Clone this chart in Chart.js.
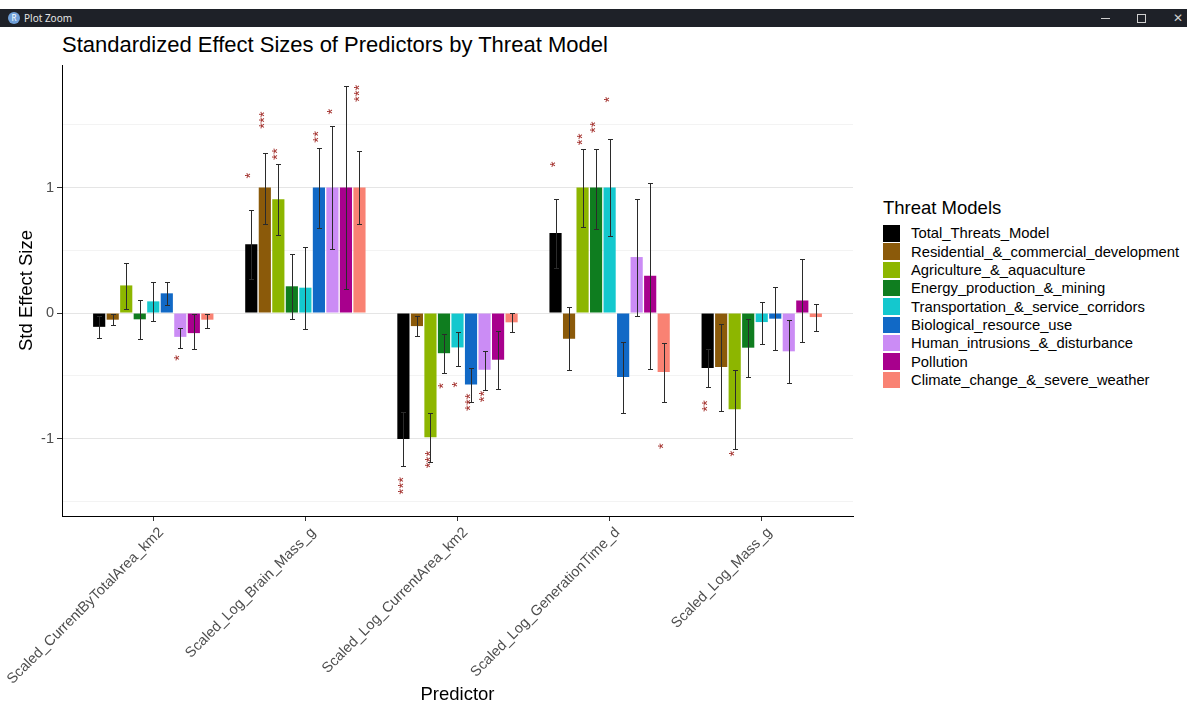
<!DOCTYPE html>
<html>
<head>
<meta charset="utf-8">
<title>Standardized Effect Sizes</title>
<script src="https://cdn.jsdelivr.net/npm/chart.js@4.4.1/dist/chart.umd.min.js"></script>
<style>
	body { margin: 0; background: #fff; font-family: 'Liberation Sans', Arial, sans-serif; }
	#page { position: relative; width: 1187px; height: 707px; overflow: hidden; }
	#chartEffects { position: absolute; left: 0; top: 0; }
	#winbar { position: absolute; left: 0; top: 9px; width: 1187px; height: 18px; background: #1e2128; color: #e4e4e4; font: 10px 'Noto Sans', sans-serif; line-height: 18px; z-index: 2; }
	#winbar .icon { position: absolute; left: 8px; top: 3px; width: 12px; height: 12px; border-radius: 50%; background: #6f9fd8; color: #fff; font-size: 8px; line-height: 12px; text-align: center; }
	#winbar .name { position: absolute; left: 24px; top: 0; }
	#winbar .min { position: absolute; left: 1101px; top: 9px; width: 9px; height: 1px; background: #cfcfcf; }
	#winbar .max { position: absolute; left: 1137px; top: 5px; width: 7px; height: 7px; border: 1px solid #cfcfcf; }
	#winbar .close { position: absolute; left: 1173px; top: 0; font-size: 12px; color: #cfcfcf; }
	#title { position: absolute; left: 62px; top: 32px; font-size: 22px; line-height: 26px; color: #000; white-space: nowrap; }
	#legend { position: absolute; left: 883px; top: 0; }
	#legend .ltitle { position: absolute; left: 0; top: 197px; font-size: 18.5px; line-height: 22px; white-space: nowrap; }
	#legend .row { position: absolute; left: 0; height: 16.5px; display: flex; align-items: center; white-space: nowrap; }
	#legend .key { width: 17px; height: 16.5px; }
	#legend .lbl { margin-left: 11px; font-size: 14.8px; color: #000; }
</style>
</head>
<body>
<div id="page">
	<div id="winbar"><div class="icon">R</div><div class="name">Plot Zoom</div><div class="min"></div><div class="max"></div><div class="close">&#x2715;</div></div>
	<div id="title">Standardized Effect Sizes of Predictors by Threat Model</div>
	<div id="legend"><div class="ltitle">Threat Models</div></div>
	<canvas id="chartEffects" width="1187" height="707"></canvas>
</div>
<script>
'use strict'

const predictors = [
	'Scaled_CurrentByTotalArea_km2',
	'Scaled_Log_Brain_Mass_g',
	'Scaled_Log_CurrentArea_km2',
	'Scaled_Log_GenerationTime_d',
	'Scaled_Log_Mass_g'
];

const threatModels = [
	'Total_Threats_Model',
	'Residential_&_commercial_development',
	'Agriculture_&_aquaculture',
	'Energy_production_&_mining',
	'Transportation_&_service_corridors',
	'Biological_resource_use',
	'Human_intrusions_&_disturbance',
	'Pollution',
	'Climate_change_&_severe_weather'
];

// one row per threat model, one column per predictor
const effectSizes = [
	[-0.11, 0.548, -1.003, 0.637, -0.438],
	[-0.053, 1.0, -0.104, -0.205, -0.43],
	[0.22, 0.907, -0.99, 1.0, -0.767],
	[-0.05, 0.213, -0.32, 1.0, -0.276],
	[0.093, 0.202, -0.274, 1.0, -0.072],
	[0.157, 1.0, -0.57, -0.51, -0.045],
	[-0.19, 1.0, -0.452, 0.446, -0.305],
	[-0.16, 1.0, -0.372, 0.297, 0.10],
	[-0.053, 1.0, -0.074, -0.47, -0.032]
];

const ciLower = [
	[-0.20, 0.27, -1.215, 0.36, -0.59],
	[-0.096, 0.713, -0.186, -0.457, -0.778],
	[0.035, 0.622, -1.19, 0.686, -1.086],
	[-0.21, -0.045, -0.476, 0.67, -0.513],
	[-0.066, -0.128, -0.42, 0.61, -0.248],
	[0.064, 0.678, -0.705, -0.80, -0.297],
	[-0.28, 0.508, -0.61, -0.024, -0.555],
	[-0.284, 0.189, -0.606, -0.444, -0.234],
	[-0.12, 0.713, -0.152, -0.709, -0.146]
];

const ciUpper = [
	[-0.02, 0.824, -0.79, 0.91, -0.29],
	[-0.01, 1.277, -0.027, 0.048, -0.085],
	[0.40, 1.19, -0.80, 1.31, -0.45],
	[0.10, 0.47, -0.165, 1.31, -0.048],
	[0.247, 0.53, -0.149, 1.39, 0.088],
	[0.247, 1.314, -0.436, -0.23, 0.205],
	[-0.117, 1.49, -0.30, 0.91, -0.058],
	[-0.005, 1.81, -0.14, 1.036, 0.43],
	[-0.005, 1.287, 0.0, -0.236, 0.072]
];

const sigStars = [
	['', '*', '***', '*', '**'],
	['', '***', '', '', ''],
	['', '**', '***', '**', '*'],
	['', '', '*', '**', ''],
	['', '', '*', '*', ''],
	['', '**', '***', '', ''],
	['*', '*', '**', '', ''],
	['', '', '', '', ''],
	['', '***', '', '*', '']
];

const starHeights = [
	[null, 1.096, -1.375, 1.185, -0.74],
	[null, 1.537, null, null, null],
	[null, 1.266, -1.167, 1.384, -1.12],
	[null, null, -0.58, 1.48, null],
	[null, null, -0.57, 1.70, null],
	[null, 1.404, -0.71, null, null],
	[-0.356, 1.604, -0.665, null, null],
	[null, null, null, null, null],
	[null, 1.75, null, -1.06, null]
];

const yTicks = [-1.5, -1, -0.5, 0, 0.5, 1, 1.5];

const colors = {
	bars: ['#000000', '#8b5a0a', '#8db600', '#0f7d1f', '#14c8ce', '#1169c6', '#cb8cf5', '#a8008d', '#f98273'],
	star: '#a3302c',
	errorBar: '#2b2b2b',
	gridMajor: '#e5e5e5',
	gridMinor: '#f3f3f3',
	axis: '#000000',
	tickText: '#4d4d4d',
};

const fontFamily = "'Liberation Sans', Arial, sans-serif";

// legend
const legendEl = document.getElementById('legend');
threatModels.forEach(function (name, i) {
	const row = document.createElement('div');
	row.className = 'row';
	row.style.top = (225 + i * 18.33) + 'px';
	row.innerHTML = '<span class="key" style="background:' + colors.bars[i] + '"></span><span class="lbl"></span>';
	row.querySelector('.lbl').textContent = name;
	legendEl.appendChild(row);
});

const errorBars = {
	id: 'errorBars',
	afterDatasetsDraw(chart) {
		const ctx = chart.ctx;
		const yScale = chart.scales.y;
		ctx.save();
		ctx.strokeStyle = colors.errorBar;
		ctx.lineWidth = 1;
		chart.data.datasets.forEach(function (ds, i) {
			chart.getDatasetMeta(i).data.forEach(function (bar, j) {
				const x = Math.round(bar.x) + 0.5;
				const top = Math.round(yScale.getPixelForValue(ciUpper[i][j])) + 0.5;
				const bottom = Math.round(yScale.getPixelForValue(ciLower[i][j])) + 0.5;
				ctx.beginPath();
				ctx.moveTo(x, top);
				ctx.lineTo(x, bottom);
				ctx.moveTo(x - 2.5, top);
				ctx.lineTo(x + 2.5, top);
				ctx.moveTo(x - 2.5, bottom);
				ctx.lineTo(x + 2.5, bottom);
				ctx.stroke();
			});
		});
		ctx.restore();
	}
};

const starLabels = {
	id: 'starLabels',
	afterDatasetsDraw(chart) {
		const ctx = chart.ctx;
		const yScale = chart.scales.y;
		ctx.save();
		ctx.fillStyle = colors.star;
		ctx.font = '15px ' + fontFamily;
		ctx.textAlign = 'center';
		ctx.textBaseline = 'middle';
		chart.data.datasets.forEach(function (ds, i) {
			chart.getDatasetMeta(i).data.forEach(function (bar, j) {
				if (!sigStars[i][j]) return;
				ctx.save();
				ctx.translate(bar.x, yScale.getPixelForValue(starHeights[i][j]));
				ctx.rotate(-Math.PI / 2);
				ctx.fillText(sigStars[i][j], 0, 0);
				ctx.restore();
			});
		});
		ctx.restore();
	}
};

const datasets = threatModels.map(function (name, i) {
	return {
		label: name,
		data: effectSizes[i].map(function (v, j) { return { x: j + 1, y: v }; }),
		backgroundColor: colors.bars[i],
		borderWidth: 0,
		categoryPercentage: 0.8,
		barPercentage: 0.9,
	};
});

let chartEffects = new Chart(document.getElementById('chartEffects'), {
	type: 'bar',
	data: { datasets: datasets },
	plugins: [errorBars, starLabels],
	options: {
		responsive: false,
		animation: false,
		layout: {
			padding: { top: 65, right: 334, bottom: 0, left: 0 },
		},
		plugins: {
			legend: { display: false },
			tooltip: { enabled: false },
		},
		scales: {
			x: {
				type: 'linear',
				min: 0.4,
				max: 5.6,
				offset: false,
				afterBuildTicks: function (scale) {
					scale.ticks = predictors.map(function (p, i) { return { value: i + 1 }; });
				},
				afterFit: function (scale) {
					scale.height = 191;
					scale.paddingLeft = 0;
					scale.paddingRight = 0;
				},
				ticks: {
					autoSkip: false,
					minRotation: 45,
					maxRotation: 45,
					padding: 3,
					labelOffset: 8,
					color: colors.tickText,
					font: { family: fontFamily, size: 14.5 },
					callback: function (value) { return predictors[Math.round(value) - 1]; },
				},
				grid: {
					offset: false,
					drawOnChartArea: false,
					tickLength: 5,
					tickColor: '#333333',
				},
				border: { color: colors.axis, width: 1 },
				title: {
					display: true,
					text: 'Predictor',
					color: '#000',
					font: { family: fontFamily, size: 18.5 },
					padding: { top: 0, bottom: 1 },
				},
			},
			y: {
				min: -1.617,
				max: 1.976,
				afterBuildTicks: function (scale) {
					scale.ticks = yTicks.map(function (v) { return { value: v }; });
				},
				afterFit: function (scale) {
					scale.width = 62;
					scale.paddingTop = 0;
					scale.paddingBottom = 0;
				},
				ticks: {
					padding: 3,
					color: colors.tickText,
					font: { family: fontFamily, size: 14.5 },
					callback: function (value) { return Number.isInteger(value) ? String(value) : ''; },
				},
				grid: {
					tickLength: 5,
					color: function (c) { return Number.isInteger(c.tick.value) ? colors.gridMajor : colors.gridMinor; },
					tickColor: function (c) { return Number.isInteger(c.tick.value) ? '#333333' : 'rgba(0,0,0,0)'; },
				},
				border: { color: colors.axis, width: 1 },
				title: {
					display: true,
					text: 'Std Effect Size',
					color: '#000',
					font: { family: fontFamily, size: 18.5 },
					padding: { top: 16, bottom: 0 },
				},
			},
		},
	},
});
</script>
</body>
</html>
